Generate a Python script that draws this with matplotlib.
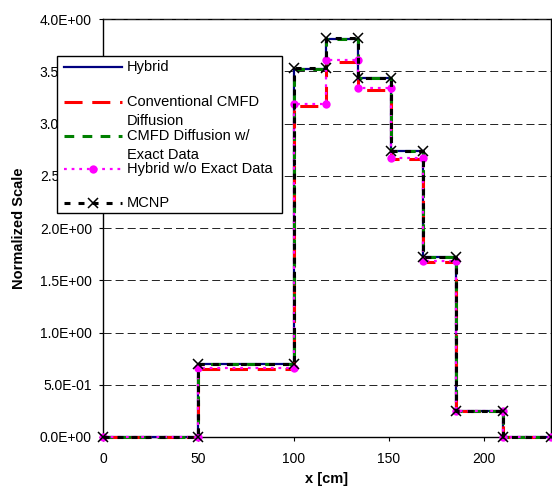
import numpy as np
import matplotlib
matplotlib.use("Agg")
import matplotlib.pyplot as plt
from matplotlib.lines import Line2D
from matplotlib.patches import Rectangle
from matplotlib.ticker import FuncFormatter

plt.rcParams['font.family'] = ['Liberation Sans', 'DejaVu Sans']
plt.rcParams['lines.scale_dashes'] = False

# bin edges [cm] and the normalized value in each bin
edges = [0, 50, 100, 117, 134, 151, 168, 185, 210, 235]
hybrid = [0.0, 0.70, 3.52, 3.81, 3.44, 2.74, 1.72, 0.25, 0.0]
conventional = [0.0, 0.65, 3.17, 3.59, 3.32, 2.66, 1.67, 0.25, 0.0]
cmfd_exact = [0.0, 0.70, 3.52, 3.81, 3.44, 2.74, 1.72, 0.25, 0.0]
hybrid_no_exact = [0.0, 0.665, 3.19, 3.61, 3.34, 2.67, 1.68, 0.245, 0.0]
mcnp = [0.0, 0.70, 3.53, 3.815, 3.44, 2.74, 1.72, 0.25, 0.0]

labels = ["Hybrid", "Conventional CMFD\nDiffusion", "CMFD Diffusion w/\nExact Data",
          "Hybrid w/o Exact Data", "MCNP"]

x_ticks = [0, 50, 100, 150, 200]
y_ticks = [0, 0.5, 1.0, 1.5, 2.0, 2.5, 3.0, 3.5, 4.0]


def step_xy(vals):
    # each bin drawn as a flat segment, joined by vertical drops
    xs = np.repeat(edges, 2)[1:-1]
    ys = np.repeat(vals, 2)
    return xs, ys


styles = [
    dict(color="#000080", lw=1.6, linestyle="-"),
    dict(color="#FF0000", lw=2.2, linestyle=(0, (13, 7))),
    dict(color="#008000", lw=2.2, linestyle=(0, (7, 6))),
    dict(color="#FF00FF", lw=1.6, linestyle=(0, (2, 3.5)), marker="o",
         markersize=6, markeredgewidth=0),
    dict(color="black", lw=2.2, linestyle=(0, (4.3, 5.8)), marker="x",
         markersize=7, markeredgewidth=1.1),
]

fig = plt.figure(figsize=(5.52, 4.87), dpi=100)
ax = fig.add_axes([103 / 552, 50 / 487, 448 / 552, 418 / 487])

for vals, st in zip([hybrid, conventional, cmfd_exact, hybrid_no_exact, mcnp], styles):
    xs, ys = step_xy(vals)
    ax.plot(xs, ys, clip_on=False, **st)

ax.set_xlim(0, 235)
ax.set_ylim(0, 4.0)
ax.set_xticks(x_ticks)
ax.set_yticks(y_ticks)
ax.yaxis.set_major_formatter(FuncFormatter(lambda v, p: f"{v:.1E}"))
ax.tick_params(direction="out", length=3, width=0.8, labelsize=10, colors="black")
ax.tick_params(axis="x", pad=8)
ax.tick_params(axis="y", pad=5)

ax.set_axisbelow(True)
ax.yaxis.grid(True, color="#222222", lw=0.7, linestyle=(0, (5.8, 2.9)))
for sp in ax.spines.values():
    sp.set_linewidth(1.0)
    sp.set_color("black")
    sp.set_zorder(0.5)

ax.set_xlabel("x [cm]", fontsize=10.5, fontweight="bold")
ax.xaxis.set_label_coords(0.5, -0.083)
ax.set_ylabel("Normalized Scale", fontsize=10.5, fontweight="bold")
ax.yaxis.set_label_coords(-0.172, 0.5)

# legend box drawn in figure pixels (Excel-style, labels wrap downward)
W, H = 552.0, 487.0
box = Rectangle((57 / W, 1 - 213 / H), 225 / W, 157 / H, transform=fig.transFigure,
                facecolor="white", edgecolor="black", lw=1.0, zorder=10)
fig.add_artist(box)
handle_y = [66.7, 101.7, 135.7, 169.0, 203.0]
for lab, st, hy in zip(labels, styles, handle_y):
    yy = 1 - hy / H
    ln = Line2D([64 / W, 93 / W, 122 / W], [yy, yy, yy], transform=fig.transFigure,
                markevery=[1], zorder=11, **st)
    fig.add_artist(ln)
    for k, part in enumerate(lab.split("\n")):
        fig.text(127 / W, 1 - (hy + 19.5 * k) / H, part, fontsize=10.5,
                 ha="left", va="center", zorder=12)

fig.savefig("out.png", dpi=100)
